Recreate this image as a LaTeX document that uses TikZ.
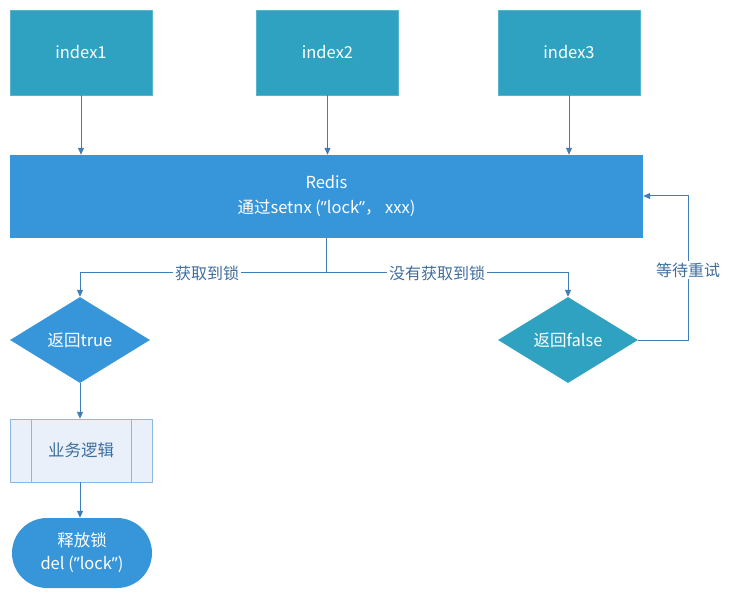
\documentclass[tikz,border=0pt]{standalone}
\usepackage{fontspec}
\setmainfont{Noto Sans CJK SC}
\newfontfamily\latinq{Noto Sans}
\newcommand{\myq}{{\latinq ”}}
\usetikzlibrary{shapes.geometric,arrows.meta}
\definecolor{teal}{HTML}{2FA2C2}
\definecolor{rblue}{HTML}{3796DA}
\definecolor{lineblue}{HTML}{3F7DB8}
\definecolor{labblue}{HTML}{3E6E9E}
\definecolor{procfill}{HTML}{E9F0FA}
\definecolor{procline}{HTML}{8DB6E2}
\begin{document}
\begin{tikzpicture}[x=1pt,y=-1pt,
  idx/.style={fill=teal,draw=teal!80!white,minimum width=142pt,minimum height=85pt,inner sep=0pt,text=white,font=\fontsize{16.5}{18}\selectfont},
  conn/.style={draw=lineblue,line width=1pt,-{Triangle[length=7pt,width=6pt]}},
  plain/.style={draw=lineblue,line width=1pt},
  lab/.style={fill=white,text=labblue,inner sep=2pt,font=\fontsize{16}{18}\selectfont},
  dia/.style={diamond,aspect=1.67,minimum width=140pt,minimum height=86pt,inner sep=0pt,text=white,font=\fontsize{16.5}{18}\selectfont}
]
\useasboundingbox (0,0) rectangle (730,593);
\node[idx] (i1) at (81,52.5) {index1};
\node[idx] (i2) at (327.5,52.5) {index2};
\node[idx] (i3) at (569,52.5) {index3};
\node[fill=rblue,minimum width=633pt,minimum height=83pt,inner sep=0pt,text=white,align=center,font=\fontsize{16.5}{25}\selectfont] (redis) at (326.5,196.5) {Redis\\通过setnx (\myq lock\myq，\ xxx)};
\draw[conn] (i1.south) -- (i1.south |- redis.north);
\draw[conn] (i2.south) -- (i2.south |- redis.north);
\draw[conn] (i3.south) -- (i3.south |- redis.north);
\node[dia,fill=rblue] (t) at (80,340) {返回true};
\node[dia,fill=teal] (f) at (568,340) {返回false};
\coordinate (split) at (326,273);
\coordinate (lt) at (80,273);
\coordinate (rt) at (568,273);
\draw[plain] (redis.south -| split) -- (split);
\draw[conn] (split) -- (lt) -- (t.north);
\draw[conn] (split) -- (rt) -- (f.north);
\node[lab] at (207,273) {获取到锁};
\node[lab] at (437,273) {没有获取到锁};
\coordinate (r1) at (688,340);
\coordinate (r2) at (688,196);
\draw[conn] (f.east) -- (r1) -- (r2) -- (redis.east |- r2);
\node[lab] at (688,270) {等待重试};
\node[fill=procfill,draw=procline,minimum width=142pt,minimum height=63pt,inner sep=0pt,text=labblue,font=\fontsize{16.5}{18}\selectfont] (p) at (81,450.5) {业务逻辑};
\draw[procline] ([xshift=21pt]p.north west) -- ([xshift=21pt]p.south west);
\draw[procline] ([xshift=-21pt]p.north east) -- ([xshift=-21pt]p.south east);
\node[fill=rblue,rounded corners=35pt,minimum width=140pt,minimum height=70pt,inner sep=0pt,text=white,align=center,font=\fontsize{16.5}{23}\selectfont] (e) at (82,553) {释放锁\\del (\myq lock\myq)};
\draw[conn] (t.south) -- (t.south |- p.north);
\draw[conn] (p.south -| t.south) -- (t.south |- e.north);
\end{tikzpicture}
\end{document}
